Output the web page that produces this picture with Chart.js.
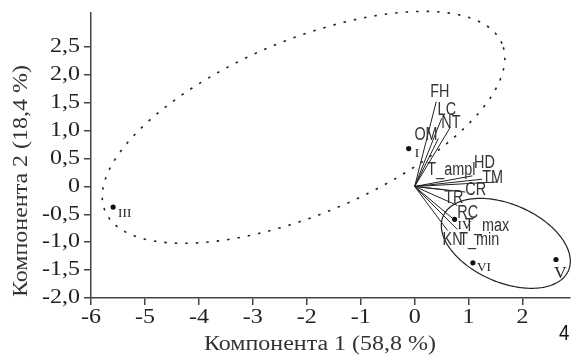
<!DOCTYPE html>
<html><head><meta charset="utf-8">
<script src="https://cdn.jsdelivr.net/npm/chart.js@4"></script>
<style>html,body{margin:0;padding:0;background:#fff}</style>
</head><body>
<canvas id="c" width="574" height="361"></canvas>
<script>
// ---- data ----
const sampleNames = ["I", "III", "IV", "V", "VI"];
const sampleX = [-0.11, -5.59, 0.74, 2.62, 1.08];
const sampleY = [0.68, -0.37, -0.59, -1.31, -1.37];

const varNames = ["FH", "LC", "NT", "OM", "T_ampl", "HD", "TM", "CR", "TR", "RC", "T_max", "KN", "T_min"];
const varX = [0.40, 0.50, 0.66, 0.44, 1.07, 1.25, 1.53, 0.94, 0.55, 0.79, 0.75, 0.61, 0.79];
const varY = [1.52, 1.22, 1.06, 0.86, 0.19, 0.13, 0.08, -0.10, -0.06, -0.34, -0.61, -0.79, -0.77];

const xTicks = [-6, -5, -4, -3, -2, -1, 0, 1, 2];
const xTickLabels = ["-6", "-5", "-4", "-3", "-2", "-1", "0", "1", "2"];
const yTicks = [-2, -1.5, -1, -0.5, 0, 0.5, 1, 1.5, 2, 2.5];
const yTickLabels = ["-2,0", "-1,5", "-1,0", "-0,5", "0", "0,5", "1,0", "1,5", "2,0", "2,5"];

const xTitle = "Компонента 1 (58,8 %)";
const yTitle = "Компонента 2 (18,4 %)";
const panelLabel = "4";

// group ellipses in data units: centre, first and second half-axis vectors
const ellipseCenterX = [-2.06, 1.69];
const ellipseCenterY = [1.06, -1.02];
const ellipseAx = [3.68, 1.16];
const ellipseAy = [1.50, -0.49];
const ellipseBx = [-0.62, 0.29];
const ellipseBy = [1.44, 0.64];

// ---- styles (pixel offsets for labels) ----
const varLabelDx = [-6, -4, -9, -24, -45, -8, -15, 0, 0, 0, 10, -5, 2];
const varLabelDy = [-5, -3.5, 0.6, 1.5, -1, -11, 1, 3, 13, 12.5, 10.5, 14, 15.6];
const sampleLabelDx = [6, 5, 3, -2, 4];
const sampleLabelDy = [8, 10, 10, 18, 8];
const sampleLabelSize = [12, 12, 12, 16, 12];
const ellipseDash = [[2.5, 8], []];
const ellipseWidth = [1.6, 1.2];

const SERIF = "'Liberation Serif','Times New Roman',serif";
const SANS = "'Liberation Sans',Arial,sans-serif";
const SERIF_STRETCH = 1.2;

const vectorSets = varNames.map((n, i) => ({
  label: n,
  data: [{x: 0, y: 0}, {x: varX[i], y: varY[i]}],
  showLine: true,
  borderColor: '#222',
  borderWidth: 1,
  pointRadius: 0,
  fill: false
}));

const samplesSet = {
  label: 'samples',
  data: sampleX.map((x, i) => ({x: x, y: sampleY[i]})),
  pointRadius: 2.6,
  pointBackgroundColor: '#111',
  pointBorderWidth: 0,
  showLine: false
};

function stretchText(ctx, text, x, y, sx) {
  ctx.save();
  ctx.translate(x, y);
  ctx.scale(sx, 1);
  ctx.fillText(text, 0, 0);
  ctx.restore();
}

const deco = {
  id: 'deco',
  beforeDatasetsDraw(chart) {
    const ctx = chart.ctx, xs = chart.scales.x, ys = chart.scales.y;
    for (let e = 0; e < ellipseCenterX.length; e++) {
      ctx.save();
      ctx.beginPath();
      const N = 240;
      for (let k = 0; k <= N; k++) {
        const t = 2 * Math.PI * k / N;
        const vx = ellipseCenterX[e] + ellipseAx[e] * Math.cos(t) + ellipseBx[e] * Math.sin(t);
        const vy = ellipseCenterY[e] + ellipseAy[e] * Math.cos(t) + ellipseBy[e] * Math.sin(t);
        const px = xs.getPixelForValue(vx), py = ys.getPixelForValue(vy);
        if (k === 0) ctx.moveTo(px, py); else ctx.lineTo(px, py);
      }
      ctx.setLineDash(ellipseDash[e]);
      ctx.lineWidth = ellipseWidth[e];
      ctx.strokeStyle = '#222';
      ctx.stroke();
      ctx.restore();
    }
  },
  afterDatasetsDraw(chart) {
    const ctx = chart.ctx, xs = chart.scales.x, ys = chart.scales.y;
    ctx.save();
    // variable labels
    ctx.fillStyle = '#333';
    ctx.textBaseline = 'alphabetic';
    ctx.textAlign = 'left';
    ctx.font = '18px ' + SANS;
    varNames.forEach((n, i) => {
      const px = xs.getPixelForValue(varX[i]) + varLabelDx[i];
      const py = ys.getPixelForValue(varY[i]) + varLabelDy[i];
      stretchText(ctx, n, px, py, 0.8);
    });
    // sample labels
    ctx.fillStyle = '#222';
    sampleNames.forEach((n, i) => {
      ctx.font = sampleLabelSize[i] + 'px ' + SERIF;
      const px = xs.getPixelForValue(sampleX[i]) + sampleLabelDx[i];
      const py = ys.getPixelForValue(sampleY[i]) + sampleLabelDy[i];
      stretchText(ctx, n, px, py, 1.1);
    });
    // tick labels
    ctx.fillStyle = '#222';
    ctx.font = '20px ' + SERIF;
    ctx.textBaseline = 'middle';
    ctx.textAlign = 'center';
    xTicks.forEach((v, i) => {
      stretchText(ctx, xTickLabels[i], xs.getPixelForValue(v), ys.bottom + 20, SERIF_STRETCH);
    });
    ctx.textAlign = 'right';
    yTicks.forEach((v, i) => {
      stretchText(ctx, yTickLabels[i], xs.left - 11, ys.getPixelForValue(v), SERIF_STRETCH);
    });
    // axis titles
    ctx.fillStyle = '#333';
    ctx.font = '20px ' + SERIF;
    ctx.textAlign = 'center';
    ctx.textBaseline = 'middle';
    stretchText(ctx, xTitle, 320, 345, SERIF_STRETCH);
    ctx.save();
    ctx.translate(22, 181);
    ctx.rotate(-Math.PI / 2);
    ctx.scale(SERIF_STRETCH, 1);
    ctx.fillText(yTitle, 0, 0);
    ctx.restore();
    // panel label
    ctx.font = '22px ' + SANS;
    ctx.textAlign = 'left';
    ctx.textBaseline = 'alphabetic';
    ctx.fillStyle = '#111';
    stretchText(ctx, panelLabel, 559, 340, 0.85);
    ctx.restore();
  }
};

new Chart(document.getElementById('c'), {
  type: 'scatter',
  data: { datasets: [...vectorSets, samplesSet] },
  options: {
    responsive: false,
    animation: false,
    layout: { padding: { left: 0, right: 0, top: 13, bottom: 0 } },
    plugins: { legend: { display: false }, tooltip: { enabled: false } },
    scales: {
      x: {
        type: 'linear', min: -6, max: 2.88,
        afterBuildTicks: s => { s.ticks = xTicks.map(v => ({value: v})); },
        afterFit: s => { s.height = 63; },
        ticks: { display: false, autoSkip: false },
        grid: { drawOnChartArea: false, drawTicks: true, tickLength: 7, color: '#444', lineWidth: 1.5 },
        border: { display: true, color: '#444', width: 1.5 }
      },
      y: {
        type: 'linear', min: -2, max: 3.11,
        afterBuildTicks: s => { s.ticks = yTicks.map(v => ({value: v})); },
        afterFit: s => { s.width = 91; },
        ticks: { display: false, autoSkip: false },
        grid: { drawOnChartArea: false, drawTicks: true, tickLength: 7, color: '#444', lineWidth: 1.5 },
        border: { display: true, color: '#444', width: 1.5 }
      }
    }
  },
  plugins: [deco]
});
</script>
</body></html>
